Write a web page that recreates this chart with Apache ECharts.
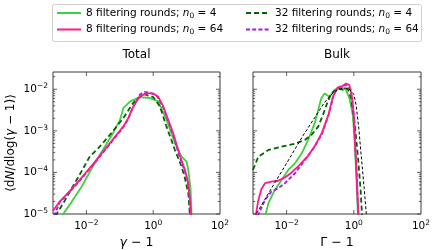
<!DOCTYPE html>
<html><head><meta charset="utf-8">
<script src="https://cdn.jsdelivr.net/npm/echarts@6/dist/echarts.min.js"></script>
<style>html,body{margin:0;padding:0;background:#fff}#c{width:436px;height:250px}</style>
</head><body><div id="c"></div>
<script>
// ---- Data (log10 of the plotted quantities) ----
// Panel "Total": x = log10(γ−1), y = log10 <dN/dlog(γ−1)>
const totalG8n4X  = [-2.74,-2.45,-2.15,-1.8,-1.5,-1.2,-1.0,-0.89,-0.69,-0.39,-0.1,0.15,0.4,0.65,0.85,1.0,1.05,1.12,1.15];
const totalG8n4Y  = [-5.05,-4.72,-4.35,-3.85,-3.45,-3.05,-2.75,-2.45,-2.29,-2.19,-2.21,-2.29,-2.73,-3.3,-3.62,-3.74,-3.94,-4.42,-5.05];
const totalG8n64X = [-3.0,-2.8,-2.5,-2.2,-1.8,-1.5,-1.2,-0.9,-0.75,-0.6,-0.4,-0.2,0.0,0.15,0.3,0.6,0.8,0.95,1.05,1.1,1.14];
const totalG8n64Y = [-4.92,-4.7,-4.45,-4.18,-3.8,-3.5,-3.2,-2.9,-2.7,-2.42,-2.17,-2.1,-2.1,-2.18,-2.41,-3.06,-3.6,-3.94,-4.26,-4.66,-5.1];
const totalG32n4X  = [-2.93,-2.7,-2.45,-2.2,-1.9,-1.6,-1.3,-0.9,-0.6,-0.3,0.0,0.2,0.4,0.65,0.85,0.95,1.05,1.1];
const totalG32n4Y  = [-5.05,-4.75,-4.4,-4.05,-3.62,-3.38,-3.1,-2.7,-2.33,-2.11,-2.19,-2.41,-2.9,-3.46,-3.86,-4.14,-4.5,-5.05];
const totalG32n64X = [-2.97,-2.8,-2.5,-2.2,-1.8,-1.5,-1.2,-0.9,-0.75,-0.6,-0.4,-0.25,-0.1,0.1,0.3,0.6,0.8,0.95,1.05,1.1,1.13];
const totalG32n64Y = [-5.05,-4.72,-4.47,-4.2,-3.82,-3.52,-3.22,-2.92,-2.72,-2.42,-2.13,-2.07,-2.08,-2.15,-2.43,-3.1,-3.65,-3.98,-4.3,-4.7,-5.1];
// Panel "Bulk": x = log10(Γ−1)
const bulkG8n4X  = [-2.64,-2.54,-2.35,-2.15,-1.95,-1.75,-1.55,-1.36,-1.16,-0.97,-0.87,-0.72,-0.58,-0.38,-0.23,-0.13,-0.03,0.02,0.07,0.12,0.13];
const bulkG8n4Y  = [-5.05,-4.74,-4.42,-4.18,-3.94,-3.78,-3.54,-3.22,-2.81,-2.22,-2.1,-2.18,-2.02,-1.94,-2.02,-2.22,-2.62,-3.19,-3.99,-4.95,-5.1];
const bulkG8n64X = [-2.92,-2.85,-2.75,-2.64,-2.45,-2.25,-2.05,-1.85,-1.65,-1.36,-1.15,-0.95,-0.75,-0.63,-0.5,-0.35,-0.23,-0.13,-0.05,0.0,0.03,0.08,0.13,0.14];
const bulkG8n64Y = [-5.05,-4.7,-4.4,-4.26,-4.22,-4.2,-4.12,-4.0,-3.85,-3.6,-3.35,-3.05,-2.6,-2.2,-1.97,-1.93,-1.86,-1.9,-2.2,-2.6,-3.19,-3.99,-4.95,-5.1];
const bulkG32n4X  = [-3.0,-2.84,-2.54,-2.15,-1.75,-1.46,-1.26,-1.06,-0.91,-0.8,-0.67,-0.48,-0.28,-0.18,-0.08,0.02,0.12,0.2,0.24,0.25];
const bulkG32n4Y  = [-3.94,-3.62,-3.46,-3.38,-3.31,-3.22,-3.1,-2.9,-2.6,-2.35,-2.1,-1.98,-2.02,-1.98,-2.22,-2.78,-3.59,-4.39,-4.95,-5.1];
const bulkG32n64X = [-2.86,-2.64,-2.45,-2.25,-2.05,-1.75,-1.5,-1.2,-0.95,-0.75,-0.6,-0.48,-0.35,-0.2,-0.1,-0.03,0.02,0.08,0.14];
const bulkG32n64Y = [-5.05,-4.66,-4.46,-4.38,-4.26,-4.02,-3.75,-3.42,-3.08,-2.62,-2.15,-1.96,-1.92,-1.9,-2.0,-2.35,-3.0,-3.9,-5.05];
const bulkRefX = [-2.89,-2.5,-2.0,-1.5,-1.16,-0.9,-0.7,-0.5,-0.3,-0.15,0.0,0.07,0.15,0.22,0.31,0.37,0.38];
const bulkRefY = [-4.98,-4.45,-3.78,-3.1,-2.68,-2.35,-2.15,-2.02,-1.97,-1.98,-2.12,-2.38,-2.95,-3.59,-4.39,-4.98,-5.1];

// Legend entries
const rounds = [8, 8, 32, 32];
const n0s = [4, 64, 4, 64];
const panelTitles = ['Total', 'Bulk'];
// Axis limits and ticks
const xLim = [1e-3, 1e2];
const yLim = [1e-5, 0.026];
const xMajorTicks = [1e-2, 1];
const yMajorTicks = [1e-5, 1e-4, 1e-3, 1e-2];
const yMinorTicks = [2e-5,3e-5,4e-5,5e-5,6e-5,7e-5,8e-5,9e-5,2e-4,3e-4,4e-4,5e-4,6e-4,7e-4,8e-4,9e-4,2e-3,3e-3,4e-3,5e-3,6e-3,7e-3,8e-3,9e-3,2e-2];

const FONT = 'DejaVu Sans';
const names = rounds.map((r, i) => r + ' filtering rounds; n\u2080 = ' + n0s[i]);
const colors = ['#3ed13e', '#ff1a8c', '#006400', '#9a1ee6'];
const dashes = ['solid', 'solid', [5, 3], [4, 2.2]];
const zs = [2, 5, 3, 4];

function pts(lx, ly) { return lx.map((v, i) => [Math.pow(10, v), Math.pow(10, ly[i])]); }

const panels = [
  [[totalG8n4X, totalG8n4Y], [totalG8n64X, totalG8n64Y], [totalG32n4X, totalG32n4Y], [totalG32n64X, totalG32n64Y]],
  [[bulkG8n4X, bulkG8n4Y], [bulkG8n64X, bulkG8n64Y], [bulkG32n4X, bulkG32n4Y], [bulkG32n64X, bulkG32n64Y]]
];

const SUP = { fontSize: 7.5, fontFamily: FONT, color: '#000', padding: [0, 0, 6, 0] };
function fmt(v, evenOnly) {
  const e = Math.log10(v), r = Math.round(e);
  if (Math.abs(e - r) > 1e-6) return '';
  if (evenOnly && r % 2 !== 0) return '';
  return '10{s|' + (r < 0 ? '\u2212' + (-r) : r) + '}';
}

const grids = [
  { left: 53, top: 72, width: 167, height: 142 },
  { left: 253, top: 72, width: 168, height: 142 }
].map(g => Object.assign(g, { show: true, borderColor: '#3a3a3a', borderWidth: 1, backgroundColor: 'transparent',
  containLabel: false, outerBoundsMode: 'none' }));

const xAxes = [0, 1].map(i => ({
  type: 'log', logBase: 10, gridIndex: i, min: xLim[0], max: xLim[1],
  axisLine: { show: false }, axisTick: { show: false }, splitLine: { show: false },
  axisLabel: { formatter: v => fmt(v, true), showMinLabel: true, showMaxLabel: true, margin: 5,
    fontSize: 10.5, fontFamily: FONT, color: '#000', rich: { s: SUP } },
  name: i === 0 ? '{i|\u03b3} \u2212 1' : '\u0393 \u2212 1',
  nameLocation: 'middle', nameGap: 19,
  nameTextStyle: { fontSize: 12.5, fontFamily: FONT, color: '#000',
    rich: { i: { fontStyle: 'italic', fontSize: 12.5, fontFamily: FONT, color: '#000' } } }
}));

const yAxes = [0, 1].map(i => ({
  type: 'log', logBase: 10, gridIndex: i, min: yLim[0], max: yLim[1],
  axisLine: { show: false }, axisTick: { show: false }, splitLine: { show: false },
  axisLabel: { show: i === 0, formatter: v => fmt(v, false), margin: 5, showMinLabel: true,
    fontSize: 10.5, fontFamily: FONT, color: '#000', rich: { s: SUP } },
  name: i === 0 ? '\u27e8d{i|N}/dlog({i|\u03b3} \u2212 1)\u27e9' : '',
  nameLocation: 'middle', nameRotate: 90, nameGap: 36,
  nameTextStyle: { fontSize: 12, fontFamily: FONT, color: '#000',
    rich: { i: { fontStyle: 'italic', fontSize: 12, fontFamily: FONT, color: '#000' } } }
}));

const series = [];
panels.forEach((panel, p) => {
  panel.forEach((d, k) => {
    series.push({
      name: names[k], type: 'line', xAxisIndex: p, yAxisIndex: p,
      data: pts(d[0], d[1]), symbol: 'none', showSymbol: false, z: zs[k],
      lineStyle: { color: colors[k], width: 1.8, type: dashes[k] },
      itemStyle: { color: colors[k] }, silent: true, animation: false
    });
  });
});
series.push({
  name: 'ref', type: 'line', xAxisIndex: 1, yAxisIndex: 1, data: pts(bulkRefX, bulkRefY),
  symbol: 'none', z: 6, lineStyle: { color: '#000', width: 1, type: [3, 2] }, silent: true, animation: false
});

// tick marks (inward, both sides), drawn through the axes' scales
const tickData = [];
yMajorTicks.forEach(v => tickData.push([xLim[0], v, 0]));
yMinorTicks.forEach(v => tickData.push([xLim[0], v, 1]));
xMajorTicks.forEach(v => tickData.push([v, yLim[0], 2]));
[0, 1].forEach(p => {
  series.push({
    type: 'custom', xAxisIndex: p, yAxisIndex: p, z: 10, silent: true, animation: false,
    data: tickData, encode: { x: 0, y: 1 },
    renderItem: (params, api) => {
      const kind = api.value(2);
      const st = { stroke: '#3a3a3a', lineWidth: 0.8 };
      if (kind < 2) {
        const y = api.value(1);
        const a = api.coord([xLim[0], y]), b = api.coord([xLim[1], y]);
        const len = kind === 0 ? 4 : 2.2;
        return { type: 'group', children: [
          { type: 'line', shape: { x1: a[0], y1: a[1], x2: a[0] + len, y2: a[1] }, style: st },
          { type: 'line', shape: { x1: b[0] - len, y1: b[1], x2: b[0], y2: b[1] }, style: st }
        ] };
      }
      const x = api.value(0);
      const a = api.coord([x, yLim[0]]), b = api.coord([x, yLim[1]]);
      return { type: 'group', children: [
        { type: 'line', shape: { x1: a[0], y1: a[1], x2: a[0], y2: a[1] - 4 }, style: st },
        { type: 'line', shape: { x1: b[0], y1: b[1], x2: b[0], y2: b[1] + 4 }, style: st }
      ] };
    }
  });
});

const legendText = { fontSize: 10.5, fontFamily: FONT, color: '#000', lineHeight: 14,
  rich: { i: { fontStyle: 'italic', fontSize: 10.5, fontFamily: FONT, color: '#000' },
          s: { fontSize: 7.5, fontFamily: FONT, color: '#000', padding: [6, 0, 0, 0] } } };
const legendFmt = n => n.replace('n\u2080', '{i|n}{s|0}');
const legendBase = { orient: 'vertical', top: 6, itemWidth: 24, itemHeight: 10, itemGap: 2.5,
  textStyle: legendText, formatter: legendFmt, selectedMode: false, padding: 0,
  itemStyle: { opacity: 0 } };

const option = {
  animation: false,
  backgroundColor: '#fff',
  grid: grids, xAxis: xAxes, yAxis: yAxes, series: series,
  legend: [
    Object.assign({ left: 56, data: [names[0], names[1]] }, legendBase),
    Object.assign({ left: 245, data: [names[2], names[3]] }, legendBase)
  ],
  graphic: [
    { type: 'rect', left: 52, top: 4, z: -1, shape: { width: 369, height: 37, r: 2 },
      style: { fill: '#fff', stroke: '#d0d0d0', lineWidth: 1 } },
    { type: 'text', x: 136.5, y: 55, style: { text: panelTitles[0], fontSize: 12, fontFamily: FONT, fill: '#000', textAlign: 'center', textVerticalAlign: 'middle' } },
    { type: 'text', x: 337, y: 55, style: { text: panelTitles[1], fontSize: 12, fontFamily: FONT, fill: '#000', textAlign: 'center', textVerticalAlign: 'middle' } }
  ]
};
const chart = echarts.init(document.getElementById('c'), null, { renderer: 'canvas' });
chart.setOption(option);
</script></body></html>
